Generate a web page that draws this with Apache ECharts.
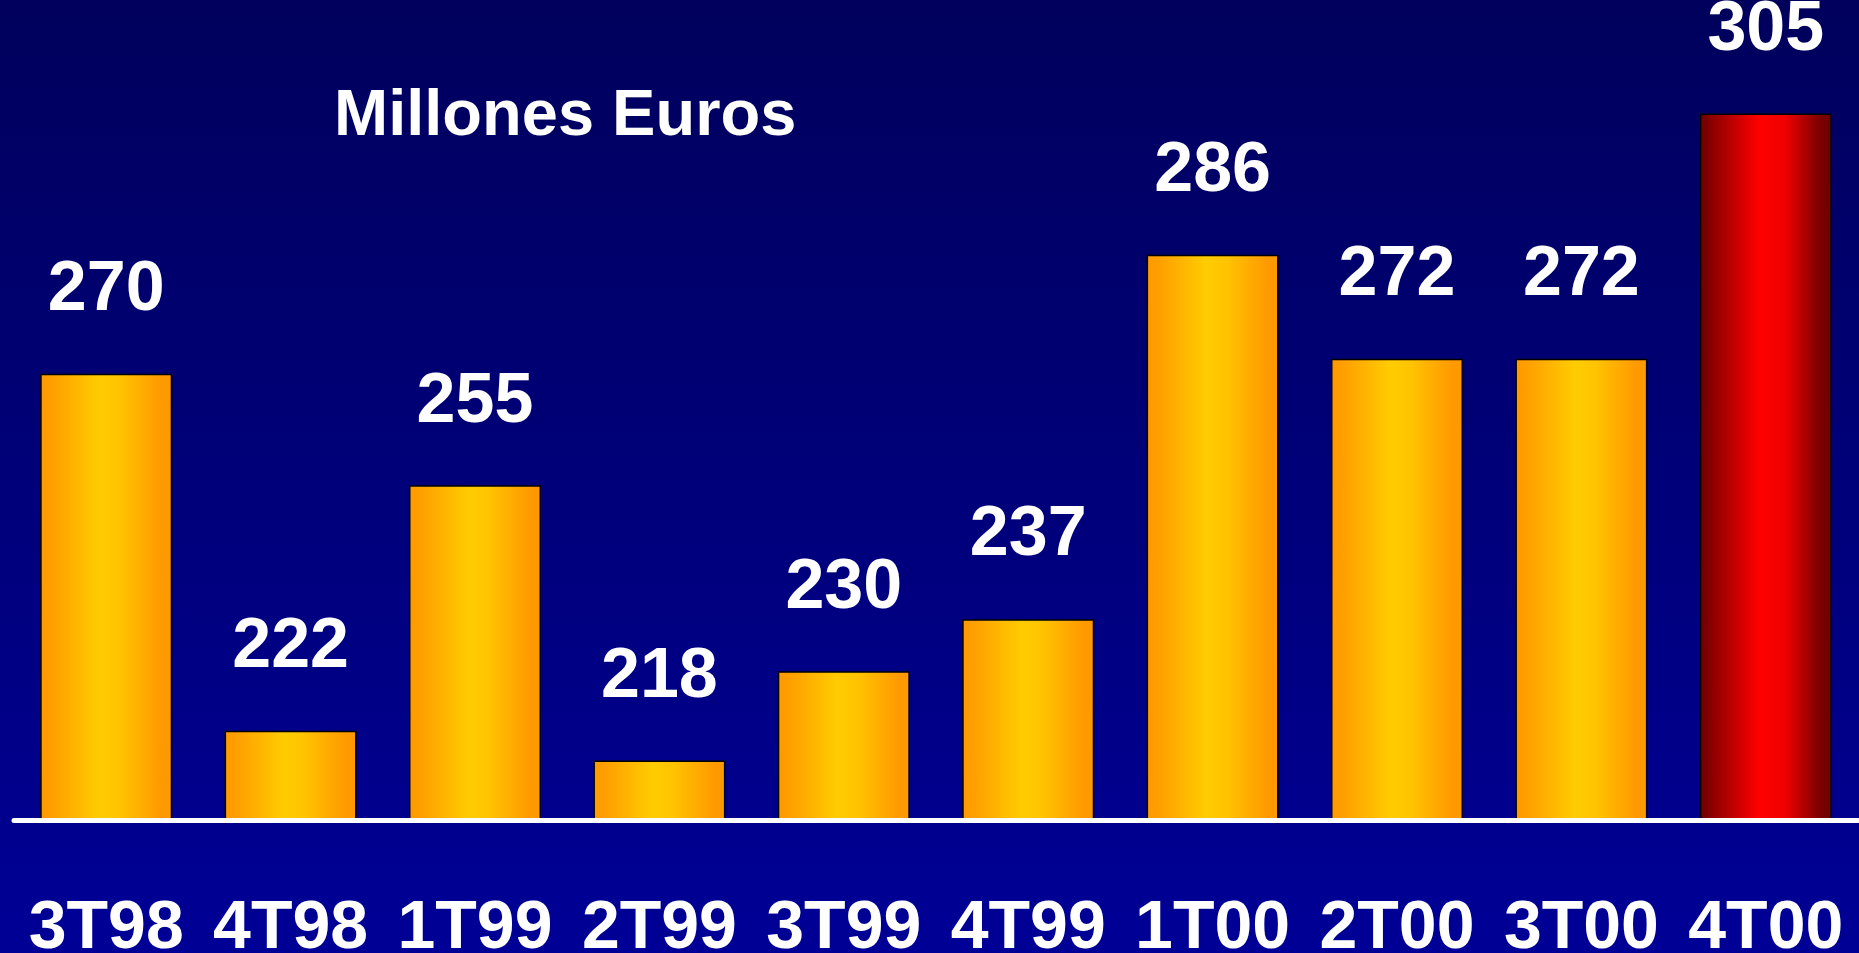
<!DOCTYPE html>
<html>
<head>
<meta charset="utf-8">
<script src="https://cdn.jsdelivr.net/npm/echarts@6/dist/echarts.min.js"></script>
<style>
  html, body { margin: 0; padding: 0; }
  #chart { width: 1859px; height: 953px; }
</style>
</head>
<body>
<div id="chart"></div>
<script>
const quarters = ["3T98", "4T98", "1T99", "2T99", "3T99", "4T99", "1T00", "2T00", "3T00", "4T00"];
const values = [270, 222, 255, 218, 230, 237, 286, 272, 272, 305];
const highlight = "4T00";

let chart = echarts.init(document.getElementById("chart"));

const gold = new echarts.graphic.LinearGradient(0, 0, 1, 0, [
  { offset: 0, color: "#FF9900" },
  { offset: 0.1, color: "#FFA000" },
  { offset: 0.45, color: "#FFCC00" },
  { offset: 0.6, color: "#FFC400" },
  { offset: 0.92, color: "#FF9900" },
  { offset: 1, color: "#FF9900" }
]);
const red = new echarts.graphic.LinearGradient(0, 0, 1, 0, [
  { offset: 0, color: "#6A0000" },
  { offset: 0.15, color: "#A00000" },
  { offset: 0.45, color: "#FF0000" },
  { offset: 0.65, color: "#EE0000" },
  { offset: 0.9, color: "#800000" },
  { offset: 1, color: "#6A0000" }
]);

let option = {
  backgroundColor: new echarts.graphic.LinearGradient(0, 0, 0, 1, [
    { offset: 0, color: "#00005C" },
    { offset: 1, color: "#000096" }
  ]),
  title: {
    text: "Millones Euros",
    left: 329,
    top: 80,
    textStyle: {
      color: "#FFFFFF",
      fontFamily: "Liberation Sans",
      fontWeight: "bold",
      fontSize: 65
    }
  },
  grid: {
    left: 14,
    right: 1,
    top: 39,
    bottom: 133,
    containLabel: false,
    outerBoundsMode: "none"
  },
  xAxis: {
    type: "category",
    data: quarters,
    z: 5,
    axisLine: {
      show: true,
      lineStyle: { color: "#FFFFFF", width: 5 }
    },
    axisTick: { show: false },
    axisLabel: {
      interval: 0,
      margin: 75,
      color: "#FFFFFF",
      fontFamily: "Liberation Sans",
      fontWeight: "bold",
      fontSize: 68
    }
  },
  yAxis: {
    type: "value",
    min: 210,
    max: 315,
    show: false,
    splitLine: { show: false }
  },
  series: [
    {
      type: "bar",
      barWidth: 132,
      data: values.map(function (v, i) {
        return {
          value: v,
          itemStyle: { color: quarters[i] === highlight ? red : gold }
        };
      }),
      itemStyle: {
        borderColor: "#000000",
        borderWidth: 1.5
      },
      label: {
        show: true,
        position: "top",
        distance: 48,
        color: "#FFFFFF",
        fontFamily: "Liberation Sans",
        fontWeight: "bold",
        fontSize: 70
      },
      animation: false
    }
  ]
};
chart.setOption(option);
</script>
</body>
</html>
